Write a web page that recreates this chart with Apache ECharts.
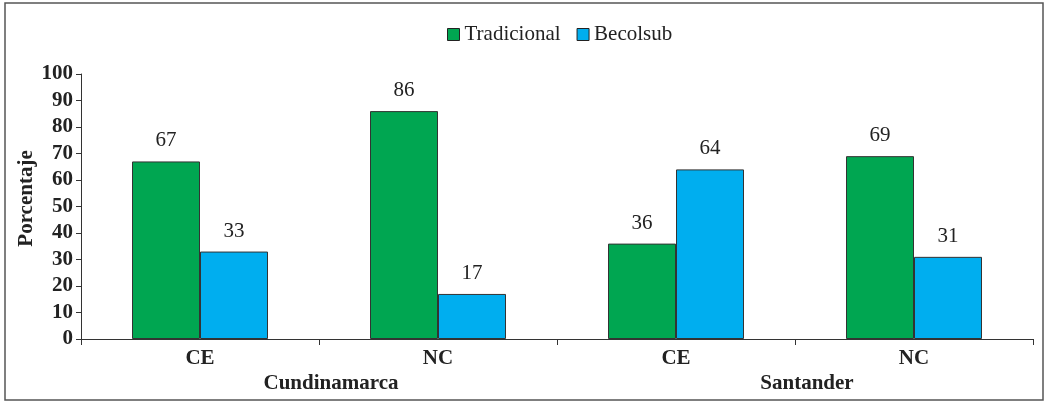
<!DOCTYPE html>
<html>
<head>
<meta charset="utf-8">
<script src="https://cdn.jsdelivr.net/npm/echarts@6/dist/echarts.min.js"></script>
<style>
  html, body { margin: 0; padding: 0; background: #fff; }
  #figure0 { width: 1050px; height: 404px; }
</style>
</head>
<body>
<div id="figure0"></div>
<script>
var categories = ['CE', 'NC', 'CE', 'NC'];
var groups = ['Cundinamarca', 'Santander'];
var tradicional = [67, 86, 36, 69];
var becolsub = [33, 17, 64, 31];

var figure0 = echarts.init(document.getElementById('figure0'));
var serif = '"Liberation Serif", "Times New Roman", serif';
var barLabel = {show: true, position: 'top', distance: 10, color: '#222', fontFamily: serif, fontSize: 21};

var option = {
    animation: false,
    textStyle: {fontFamily: serif},
    graphic: [{
        type: 'rect',
        shape: {x: 5, y: 3, width: 1038, height: 397},
        style: {fill: 'none', stroke: '#555', lineWidth: 1.5}
    }],
    legend: {
        top: 19,
        left: 442,
        itemWidth: 12,
        itemHeight: 12,
        itemGap: 16,
        itemTextGap: 6,
        icon: 'rect',
        textStyle: {fontFamily: serif, fontSize: 21, color: '#222'},
        itemStyle: {borderColor: '#222', borderWidth: 1},
        data: ['Tradicional', 'Becolsub']
    },
    grid: {left: 81, right: 17, top: 74, bottom: 65, outerBoundsMode: 'none'},
    xAxis: [{
        type: 'category',
        data: categories,
        axisLine: {lineStyle: {color: '#333', width: 1}},
        axisTick: {show: true, length: 6, lineStyle: {color: '#333'}},
        axisLabel: {margin: 9, color: '#222', fontFamily: serif, fontSize: 21, fontWeight: 'bold'}
    }, {
        type: 'category',
        data: groups,
        position: 'bottom',
        axisLine: {show: false},
        axisTick: {show: false},
        axisLabel: {margin: 34, padding: [0, 0, 0, 24], color: '#222', fontFamily: serif, fontSize: 21, fontWeight: 'bold'}
    }],
    yAxis: {
        type: 'value',
        min: 0,
        max: 100,
        interval: 10,
        name: 'Porcentaje',
        nameLocation: 'middle',
        nameGap: 44,
        nameMoveOverlap: false,
        nameTextStyle: {fontFamily: serif, fontSize: 21, fontWeight: 'bold', color: '#222', padding: [0, 0, 0, 16]},
        splitLine: {show: false},
        axisLine: {show: true, lineStyle: {color: '#333', width: 1}},
        axisTick: {show: true, length: 5, lineStyle: {color: '#333'}},
        axisLabel: {margin: 8, color: '#222', fontFamily: serif, fontSize: 21, fontWeight: 'bold'}
    },
    series: [{
        name: 'Tradicional',
        type: 'bar',
        data: tradicional,
        barWidth: 68,
        barGap: '0%',
        itemStyle: {color: '#00a651', borderColor: '#333', borderWidth: 1},
        label: barLabel
    }, {
        name: 'Becolsub',
        type: 'bar',
        data: becolsub,
        barWidth: 68,
        barGap: '0%',
        itemStyle: {color: '#00aeef', borderColor: '#333', borderWidth: 1},
        label: barLabel
    }]
};
figure0.setOption(option);
</script>
</body>
</html>
